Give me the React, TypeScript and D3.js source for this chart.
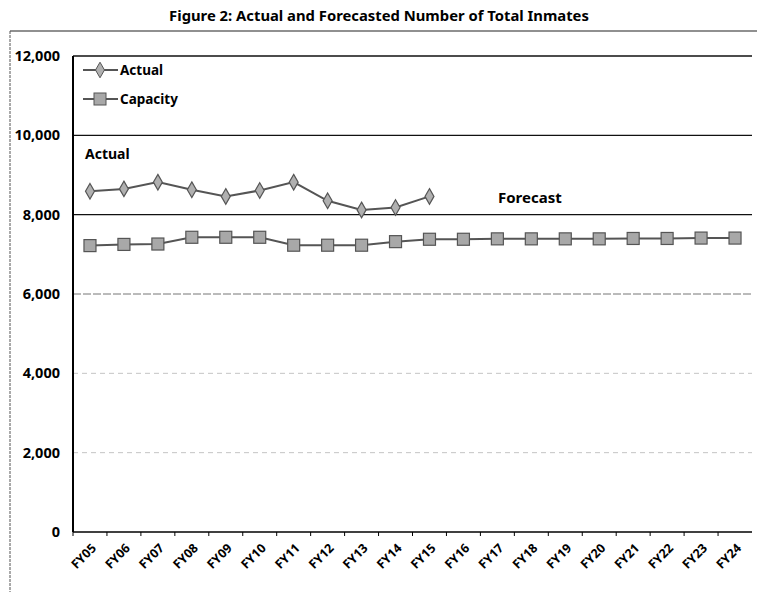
import React, { useRef, useEffect } from 'react';
import * as d3 from 'd3';

const years = ['FY05', 'FY06', 'FY07', 'FY08', 'FY09', 'FY10', 'FY11', 'FY12', 'FY13', 'FY14',
  'FY15', 'FY16', 'FY17', 'FY18', 'FY19', 'FY20', 'FY21', 'FY22', 'FY23', 'FY24'];
const actual = [8590, 8650, 8820, 8630, 8460, 8610, 8820, 8350, 8120, 8180, 8460];
const capacity = [7220, 7250, 7260, 7430, 7430, 7430, 7230, 7230, 7230, 7320,
  7380, 7380, 7390, 7390, 7390, 7390, 7400, 7400, 7410, 7410];
const yTicks = [0, 2000, 4000, 6000, 8000, 10000, 12000];

const App = () => {
  const svgRef = useRef(null);

  useEffect(() => {
    const svg = d3.select(svgRef.current);
    svg.selectAll('*').remove();

    const width = 757;
    const height = 592;
    const m = { left: 73, right: 5, top: 56, bottom: 60 };
    const font = '"Noto Sans", sans-serif';

    const x = d3.scaleBand().domain(years).range([m.left, width - m.right]);
    const y = d3.scaleLinear().domain([0, 12000]).range([height - m.bottom, m.top]);
    const cx = (d) => x(d) + x.bandwidth() / 2;

    // title
    svg.append('text')
      .text('Figure 2: Actual and Forecasted Number of Total Inmates')
      .attr('x', 379).attr('y', 21)
      .attr('text-anchor', 'middle')
      .style('font-family', font)
      .style('font-size', '14.8px')
      .style('font-weight', 'bold');

    // outer frame
    svg.append('line').attr('x1', 10).attr('x2', width).attr('y1', 31).attr('y2', 31)
      .style('stroke', '#222').style('stroke-width', 1.2);
    svg.append('line').attr('x1', 10).attr('x2', 10).attr('y1', 31).attr('y2', height)
      .style('stroke', '#555').style('stroke-width', 1).style('stroke-dasharray', '3,1');

    // gridlines
    const gridColor = (v) => (v >= 8000 ? '#111' : v >= 6000 ? '#777' : '#c4c4c4');
    svg.append('g').selectAll('line')
      .data(yTicks.filter((v) => v > 0))
      .join('line')
      .attr('x1', m.left).attr('x2', width - m.right)
      .attr('y1', (d) => y(d)).attr('y2', (d) => y(d))
      .style('stroke', gridColor)
      .style('stroke-width', (d) => (d >= 8000 ? 1.3 : 1))
      .style('stroke-dasharray', (d) => (d >= 8000 ? null : d >= 6000 ? '8,2' : '5,4'));

    // y axis
    svg.append('line').attr('x1', m.left).attr('x2', m.left)
      .attr('y1', y(12000)).attr('y2', y(0))
      .style('stroke', '#000').style('stroke-width', 2);
    svg.append('g').selectAll('text')
      .data(yTicks)
      .join('text')
      .text((d) => d3.format(',')(d))
      .attr('x', m.left - 13)
      .attr('y', (d) => y(d) + 5)
      .attr('text-anchor', 'end')
      .style('font-family', font)
      .style('font-size', '14.5px')
      .style('font-weight', 'bold');

    // x axis
    svg.append('line').attr('x1', m.left).attr('x2', width - m.right)
      .attr('y1', y(0)).attr('y2', y(0))
      .style('stroke', '#000').style('stroke-width', 1.5);
    svg.append('g').selectAll('line')
      .data(years)
      .join('line')
      .attr('x1', (d) => x(d)).attr('x2', (d) => x(d))
      .attr('y1', y(0)).attr('y2', y(0) + 4)
      .style('stroke', '#000');
    svg.append('g').selectAll('text')
      .data(years)
      .join('text')
      .text((d) => d)
      .attr('transform', (d) => `translate(${cx(d) + 7},${y(0) + 17}) rotate(-45)`)
      .attr('text-anchor', 'end')
      .style('font-family', font)
      .style('font-size', '12.5px')
      .style('font-weight', 'bold');

    const lineStroke = '#555';
    const line = d3.line().x((d, i) => cx(years[i])).y((d) => y(d));

    // capacity
    svg.append('path')
      .datum(capacity)
      .attr('d', line)
      .style('fill', 'none')
      .style('stroke', lineStroke)
      .style('stroke-width', 2);
    svg.append('g').selectAll('rect')
      .data(capacity)
      .join('rect')
      .attr('x', (d, i) => cx(years[i]) - 6)
      .attr('y', (d) => y(d) - 6)
      .attr('width', 12).attr('height', 12)
      .style('fill', '#a8a8a8')
      .style('stroke', '#555')
      .style('stroke-width', 1.2);

    // actual
    svg.append('path')
      .datum(actual)
      .attr('d', line)
      .style('fill', 'none')
      .style('stroke', lineStroke)
      .style('stroke-width', 2);
    const diamond = d3.symbol().type(d3.symbolDiamond).size(70);
    svg.append('g').selectAll('path')
      .data(actual)
      .join('path')
      .attr('d', diamond)
      .attr('transform', (d, i) => `translate(${cx(years[i])},${y(d)})`)
      .style('fill', '#b0b0b0')
      .style('stroke', '#555')
      .style('stroke-width', 1.2);

    // legend
    const legend = svg.append('g');
    const items = [
      { name: 'Actual', ly: 70, kind: 'diamond' },
      { name: 'Capacity', ly: 99, kind: 'square' },
    ];
    items.forEach((it) => {
      legend.append('line').attr('x1', 83).attr('x2', 118).attr('y1', it.ly).attr('y2', it.ly)
        .style('stroke', lineStroke).style('stroke-width', 2);
      if (it.kind === 'diamond') {
        legend.append('path').attr('d', diamond)
          .attr('transform', `translate(100,${it.ly})`)
          .style('fill', '#b0b0b0').style('stroke', '#555');
      } else {
        legend.append('rect').attr('x', 94).attr('y', it.ly - 6).attr('width', 12).attr('height', 12)
          .style('fill', '#a8a8a8').style('stroke', '#555');
      }
      legend.append('text').text(it.name)
        .attr('x', 120).attr('y', it.ly + 5)
        .style('font-family', font)
        .style('font-size', '13.5px')
        .style('font-weight', 'bold');
    });

    // annotations
    svg.append('text').text('Actual')
      .attr('x', 85).attr('y', 159)
      .style('font-family', font).style('font-size', '14px').style('font-weight', 'bold');
    svg.append('text').text('Forecast')
      .attr('x', 498).attr('y', 203)
      .style('font-family', font).style('font-size', '15px').style('font-weight', 'bold');
  }, []);

  return (
    <div>
      <svg ref={svgRef} width="757" height="592" style={{ position: 'absolute', left: 0, top: 0, background: '#fff' }}></svg>
    </div>
  );
};

export default App;
